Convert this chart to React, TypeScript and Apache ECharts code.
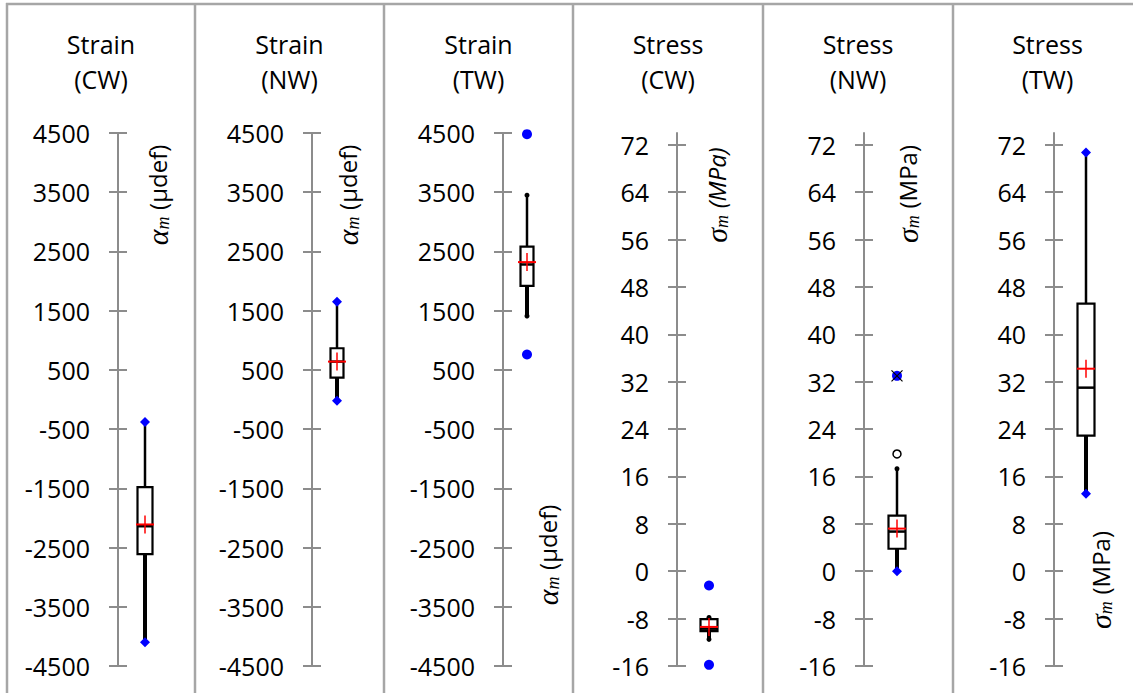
import React, { useEffect, useRef } from "react";
import * as echarts from "echarts";

// ---- data ----
const panelTitles = ["Strain\n(CW)", "Strain\n(NW)", "Strain\n(TW)", "Stress\n(CW)", "Stress\n(NW)", "Stress\n(TW)"];
const strainTicks = [-4500, -3500, -2500, -1500, -500, 500, 1500, 2500, 3500, 4500];
const stressTicks = [-16, -8, 0, 8, 16, 24, 32, 40, 48, 56, 64, 72];
const strainRange = [-4500, 4500];
const stressRange = [-16, 74];

const whiskerLow = [-4100, -20, 1410, -11.5, 0, 13.1];
const quartile1 = [-2610, 370, 1920, -10.1, 3.8, 22.9];
const medians = [-2140, 640, 2280, -9.7, 6.7, 31.0];
const quartile3 = [-1480, 865, 2580, -8.1, 9.4, 45.2];
const whiskerHigh = [-380, 1650, 3450, -7.8, 17.3, 70.7];
const means = [-2110, 640, 2320, -9.4, 7.2, 34.2];
const extremeLow = [-4100, -20, 760, -15.8, 0, 13.1];
const extremeHigh = [-380, 1650, 4480, -2.4, 33, 70.7];
const openOutliers = [null, null, null, null, 19.8, null];
const starredPoints = [null, null, null, null, 33, null];

// ---- layout / style ----
const axisXs = [118, 312, 503, 677, 864, 1054];
const boxXs = [145, 337, 527, 709, 897, 1086];
const boxWidths = [15, 13, 13, 17, 17, 17];
const whiskerDots = [false, false, true, true, true, false];
const lowSymbols = ["diamond", "diamond", "circle", "circle", "diamond", "diamond"];
const highSymbols = ["diamond", "diamond", "circle", "circle", "circle", "diamond"];
const borderXs = [7, 195, 384, 573, 763, 953];
const nameSpots = [
  [157, 195], [347, 195], [547, 555], [716, 195], [907, 194], [1100, 580],
];
const axisGray = "#8c8c8c";
const FONT = "'Open Sans', sans-serif";
const MATH = "'Liberation Serif', serif";

export default function App() {
  const ref = useRef<HTMLDivElement>(null);
  useEffect(() => {
    const chart = echarts.init(ref.current!, null, { renderer: "svg" });
    const grid: any[] = [];
    const xAxis: any[] = [];
    const yAxis: any[] = [];
    const series: any[] = [];
    const graphic: any[] = [];

    for (let i = 0; i < 6; i++) {
      const isStrain = i < 3;
      const ticks = isStrain ? strainTicks : stressTicks;
      const range = isStrain ? strainRange : stressRange;
      grid.push({ left: axisXs[i], width: 2 * (boxXs[i] - axisXs[i]), top: 133, height: 533 });
      xAxis.push({ type: "category", gridIndex: i, data: [""], show: false });
      const base = {
        type: "value",
        gridIndex: i,
        min: range[0],
        max: range[1],
        position: "left",
        splitLine: { show: false },
      };
      yAxis.push({
        ...base,
        axisLine: { show: true, lineStyle: { color: axisGray, width: 2 } },
        axisTick: { show: true, length: 9, customValues: ticks, lineStyle: { color: axisGray, width: 2 } },
        axisLabel: {
          show: true,
          customValues: ticks,
          margin: 28,
          color: "#000",
          fontSize: 25,
          fontFamily: FONT,
          formatter: (v: number) => String(v),
        },
      });
      yAxis.push({
        ...base,
        axisLine: { show: false },
        axisTick: { show: true, inside: true, length: 9, customValues: ticks, lineStyle: { color: axisGray, width: 2 } },
        axisLabel: { show: false },
      });
      const yi = 2 * i;
      const bw = boxWidths[i];
      const dots = whiskerDots[i];
      series.push({
        type: "custom",
        xAxisIndex: i,
        yAxisIndex: yi,
        encode: { x: 0, y: [1, 2, 3, 4, 5, 6] },
        data: [[0, whiskerLow[i], quartile1[i], medians[i], quartile3[i], whiskerHigh[i], means[i]]],
        z: 3,
        renderItem: (params: any, api: any) => {
          const c = (d: number) => api.coord([0, api.value(d)]);
          const [x, yLo] = c(1);
          const yQ1 = c(2)[1];
          const yMed = c(3)[1];
          const yQ3 = c(4)[1];
          const yHi = c(5)[1];
          const yMean = c(6)[1];
          const h = bw / 2;
          const children: any[] = [
            { type: "line", shape: { x1: x, y1: yQ3, x2: x, y2: yHi }, style: { stroke: "#000", lineWidth: 2.5 } },
            { type: "line", shape: { x1: x, y1: yQ1, x2: x, y2: yLo }, style: { stroke: "#000", lineWidth: 4 } },
            { type: "rect", shape: { x: x - h, y: yQ3, width: bw, height: yQ1 - yQ3 }, style: { fill: "#fff", stroke: "#000", lineWidth: 2.2 } },
            { type: "line", shape: { x1: x - h, y1: yMed, x2: x + h, y2: yMed }, style: { stroke: "#000", lineWidth: 2.5 } },
          ];
          if (dots) {
            children.push({ type: "circle", shape: { cx: x, cy: yHi, r: 2.5 }, style: { fill: "#000" } });
            children.push({ type: "circle", shape: { cx: x, cy: yLo, r: 2.5 }, style: { fill: "#000" } });
          }
          children.push({ type: "line", shape: { x1: x - 9, y1: yMean, x2: x + 9, y2: yMean }, style: { stroke: "#ff0000", lineWidth: 2 } });
          children.push({ type: "line", shape: { x1: x, y1: yMean - 9, x2: x, y2: yMean + 9 }, style: { stroke: "#ff0000", lineWidth: 1.5 } });
          return { type: "group", children };
        },
      });
      series.push({
        type: "scatter",
        xAxisIndex: i,
        yAxisIndex: yi,
        z: 5,
        data: [
          { value: [0, extremeLow[i]], symbol: lowSymbols[i] },
          { value: [0, extremeHigh[i]], symbol: highSymbols[i] },
        ],
        symbolSize: 10,
        itemStyle: { color: "#0000ff", opacity: 1 },
      });
      if (openOutliers[i] !== null) {
        series.push({
          type: "scatter",
          xAxisIndex: i,
          yAxisIndex: yi,
          z: 5,
          data: [[0, openOutliers[i]]],
          symbol: "circle",
          symbolSize: 8,
          itemStyle: { color: "#fff", borderColor: "#000", borderWidth: 1.5, opacity: 1 },
        });
      }
      if (starredPoints[i] !== null) {
        series.push({
          type: "scatter",
          xAxisIndex: i,
          yAxisIndex: yi,
          z: 6,
          data: [[0, starredPoints[i]]],
          symbol: "path://M0,0L10,10M10,0L0,10",
          symbolSize: 11,
          itemStyle: { color: "none", borderColor: "#000", borderWidth: 1.2, opacity: 1 },
        });
      }

      // title
      graphic.push({
        type: "text",
        x: (borderXs[i] + (i < 5 ? borderXs[i + 1] : borderXs[i] + 189)) / 2,
        y: 61,
        style: {
          text: panelTitles[i],
          align: "center",
          verticalAlign: "middle",
          lineHeight: 35,
          fontSize: 25,
          fontFamily: FONT,
          fill: "#000",
        },
      });
      // axis name
      const sym = isStrain ? "α" : "σ";
      const unit = isStrain ? "(µdef)" : "(MPa)";
      const unitStyle = i === 3 ? "ti" : "t";
      graphic.push({
        type: "text",
        x: nameSpots[i][0],
        y: nameSpots[i][1],
        rotation: Math.PI / 2,
        style: {
          text: `{g|${sym}}{s|m}  {${unitStyle}|${unit}}`,
          align: "center",
          verticalAlign: "middle",
          fill: "#000",
          rich: {
            g: { fontFamily: MATH, fontStyle: "italic", fontSize: 30, fill: "#000" },
            s: { fontFamily: MATH, fontStyle: "italic", fontSize: 18, verticalAlign: "bottom", fill: "#000" },
            t: { fontFamily: FONT, fontSize: 24, fill: "#000" },
            ti: { fontFamily: FONT, fontStyle: "italic", fontSize: 24, fill: "#000" },
          },
        },
      });
    }

    // panel borders
    borderXs.forEach((bx) => {
      graphic.push({
        type: "line",
        shape: { x1: bx, y1: 3, x2: bx, y2: 693 },
        style: { stroke: "#a6a6a6", lineWidth: 2.5 },
      });
    });
    graphic.push({
      type: "line",
      shape: { x1: 6, y1: 4, x2: 1133, y2: 4 },
      style: { stroke: "#a6a6a6", lineWidth: 2.5 },
    });

    chart.setOption({
      animation: false,
      backgroundColor: "#fff",
      grid,
      xAxis,
      yAxis,
      series,
      graphic,
    });
    return () => chart.dispose();
  }, []);
  return (
    <div
      ref={ref}
      style={{ position: "fixed", left: 0, top: 0, width: 1133, height: 693 }}
    />
  );
}
